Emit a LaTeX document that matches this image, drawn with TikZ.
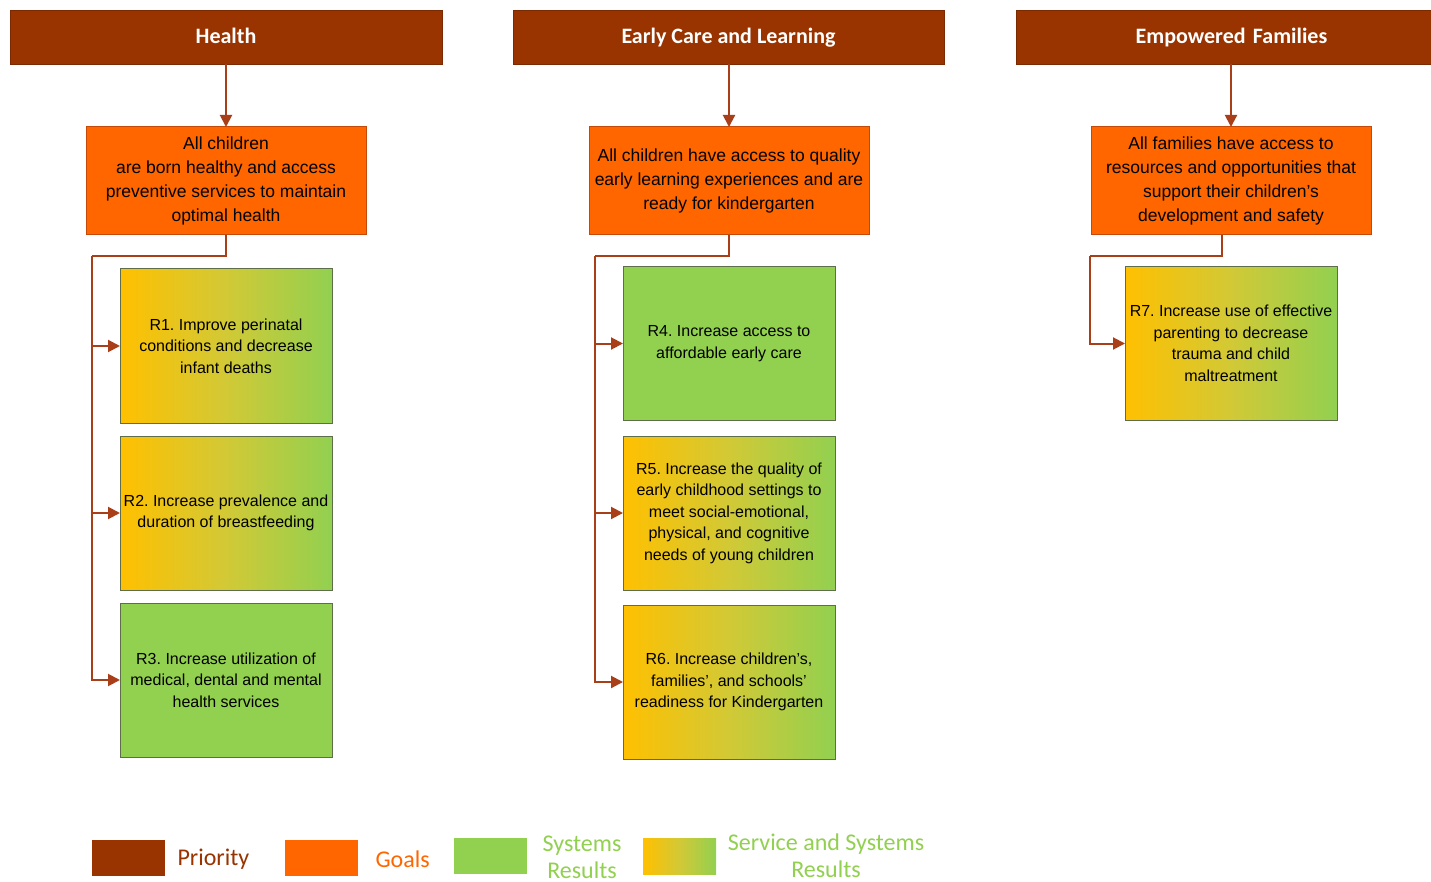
\documentclass[tikz,border=0pt]{standalone}
\usepackage{fontspec}
\setmainfont{Liberation Sans}
\newfontfamily\calib{Carlito}
\usetikzlibrary{arrows.meta}
\definecolor{prio}{HTML}{993300}
\definecolor{goal}{HTML}{FF6600}
\definecolor{goalb}{HTML}{C44A0A}
\definecolor{sysg}{HTML}{92D050}
\definecolor{svcy}{HTML}{FFC000}
\definecolor{midc}{HTML}{D2C936}
\definecolor{conn}{HTML}{A93F18}
\definecolor{resb}{HTML}{5F6E4A}
\frenchspacing
\tikzset{
  hdr/.style={fill=prio, draw=prio!80!black, line width=0.8pt, anchor=north west, inner sep=0pt, outer sep=0pt,
    minimum height=54pt, text height=16pt, text depth=2pt, text=white, font=\calib\bfseries\fontsize{22}{26}\selectfont},
  goalbox/.style={fill=goal, draw=goalb, line width=1pt, anchor=north west, inner sep=0pt, outer sep=0pt,
    minimum width=280pt, minimum height=108pt, align=center, text=black,
    font=\fontsize{17.5}{24}\selectfont},
  resbox/.style={draw=resb, line width=1pt, anchor=north west, inner sep=0pt, outer sep=0pt,
    minimum width=212pt, minimum height=154pt, align=center, text=black,
    font=\fontsize{16}{21.5}\selectfont},
  grad/.style={left color=svcy, right color=sysg, middle color=midc},
  solidg/.style={fill=sysg},
  link/.style={draw=conn, line width=2pt},
  arr/.style={link, -{Triangle[length=12pt,width=12pt]}},
  legbox/.style={anchor=north west, inner sep=0pt, outer sep=0pt, minimum width=73pt, minimum height=36pt},
  legtxt/.style={font=\calib\fontsize{24}{27}\selectfont, align=center}
}
\begin{document}
\begin{tikzpicture}[x=1pt,y=-1pt]
\useasboundingbox (0,0) rectangle (1431,882);
\fill[white] (0,0) rectangle (1431,882);

% headers
\node[hdr, minimum width=432pt] (h1) at (10,10) {Health};
\node[hdr, minimum width=431pt] (h2) at (513,10) {Early Care and Learning};
\node[hdr, minimum width=415pt, text width=415pt, align=center] (h3) at (1016,10) {\hspace*{16pt}Empowered Families};

% goals
\node[goalbox] (g1) at (86,127) {All children\\are born healthy and access\\preventive services to maintain\\optimal health};
\node[goalbox] (g2) at (589,127) {All children have access to quality\\early learning experiences and are\\ready for kindergarten};
\node[goalbox] (g3) at (1091,127) {All families have access to\\resources and opportunities that\\support their children’s\\development and safety};

% results
\node[resbox, grad] (r1) at (120,269) {R1. Improve perinatal\\conditions and decrease\\infant deaths};
\node[resbox, grad] (r2) at (120,436) {R2. Increase prevalence and\\duration of breastfeeding};
\node[resbox, solidg] (r3) at (120,603) {R3. Increase utilization of\\medical, dental and mental\\health services};

\node[resbox, solidg, minimum height=153pt] (r4) at (623,267) {R4. Increase access to\\affordable early care};
\node[resbox, grad] (r5) at (623,436) {R5. Increase the quality of\\early childhood settings to\\meet social-emotional,\\physical, and cognitive\\needs of young children};
\node[resbox, grad] (r6) at (623,605) {R6. Increase children’s,\\families’, and schools’\\readiness for Kindergarten};

\node[resbox, grad, minimum height=153pt] (r7) at (1125,267) {R7. Increase use of effective\\parenting to decrease\\trauma and child\\maltreatment};

% header to goal arrows
\draw[arr] (h1.south -| g1.south) -- (g1.north);
\draw[arr] (h2.south -| g2.south) -- (g2.north);
\draw[arr] (1231,64) -- (g3.north);

% health column connectors
\coordinate (c1) at (92,256);
\draw[link] (g1.south) |- (c1);
\draw[arr] (c1) |- (r1.west);
\draw[arr] (c1) |- (r2.west);
\draw[arr] (c1) |- (r3.west);

% early care connectors
\coordinate (c2) at (595,256);
\draw[link] (g2.south) |- (c2);
\draw[arr] (c2) |- (r4.west);
\draw[arr] (c2) |- (r5.west);
\draw[arr] (c2) |- (r6.west);

% empowered connectors
\coordinate (e0) at (1222,235);
\coordinate (c3) at (1090,256);
\draw[link] (e0) |- (c3);
\draw[arr] (c3) |- (r7.west);

% legend
\node[legbox, fill=prio] (l1) at (92,840) {};
\node[legtxt, text=prio, anchor=west] (t1) at (174,859) {Priority};
\node[legbox, fill=goal] (l2) at (285,840) {};
\node[legtxt, text=goal, anchor=west] (t2) at (372,859) {Goals};
\node[legbox, fill=sysg] (l3) at (454,838) {};
\node[legtxt, text=sysg] (t3) at (582,857) {Systems\\Results};
\node[legbox, grad] (l4) at (643,838) {};
\node[legtxt, text=sysg] (t4) at (826,856) {Service and Systems\\Results};
\end{tikzpicture}
\end{document}
